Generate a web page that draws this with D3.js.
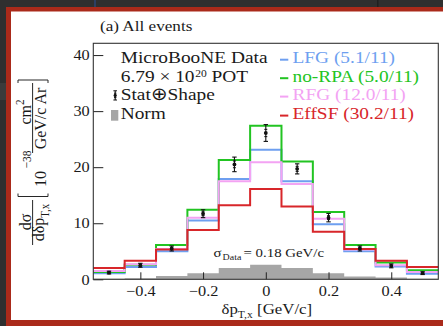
<!DOCTYPE html>
<html>
<head>
<meta charset="utf-8">
<script src="https://cdn.jsdelivr.net/npm/d3@7"></script>
<style>
  html, body { margin: 0; padding: 0; background: #2f2f2f; overflow: hidden; }
  svg { display: block; }
</style>
</head>
<body>
<script>
// ---- data ---------------------------------------------------------------
const binEdges   = [-0.55, -0.45, -0.35, -0.25, -0.15, -0.05, 0.05, 0.15, 0.25, 0.35, 0.45, 0.55];
const binCenters = [-0.5, -0.4, -0.3, -0.2, -0.1, 0, 0.1, 0.2, 0.3, 0.4, 0.5];

const dataValues = [1.2, 2.5, 5.5, 11.7, 20.5, 26.1, 19.7, 11.0, 5.5, 2.4, 1.1];
const dataTotErr = [0.25, 0.35, 0.45, 0.7, 1.3, 1.5, 0.9, 0.75, 0.45, 0.35, 0.25];
const dataStatErr = [0.12, 0.18, 0.22, 0.35, 0.6, 0.65, 0.45, 0.35, 0.22, 0.18, 0.12];

const lfgValues   = [1.1, 2.2, 5.0, 10.5, 17.9, 23.1, 17.5, 9.8, 5.0, 2.3, 1.0];
const noRpaValues = [1.3, 2.6, 6.1, 12.4, 21.3, 27.4, 21.0, 12.0, 6.1, 3.0, 1.6];
const rfgValues   = [1.5, 2.7, 5.4, 11.0, 17.5, 20.9, 17.0, 10.8, 5.3, 2.5, 1.3];
const effSfValues = [2.0, 3.3, 5.3, 8.8, 13.2, 16.1, 13.0, 8.5, 5.4, 3.3, 2.2];
const normValues  = [0.1, 0.2, 0.6, 1.1, 2.0, 2.6, 2.0, 1.1, 0.5, 0.3, 0.1];

const modelNames  = ["LFG", "no-RPA", "RFG", "EffSF"];
const modelChi2   = ["5.1/11", "5.0/11", "12.0/11", "30.2/11"];
const modelColors = ["#6e9ff0", "#22c422", "#f3a3f3", "#d8262a"];
const modelValues = [lfgValues, noRpaValues, rfgValues, effSfValues];

const xTicks = [-0.4, -0.2, 0, 0.2, 0.4];
const xTickLabels = ["\u22120.4", "\u22120.2", "0", "0.2", "0.4"];
const yTicks = [0, 10, 20, 30, 40];
const yTickLabels = ["0", "10", "20", "30", "40"];

// ---- layout -------------------------------------------------------------
const W = 443, H = 326;
const SX = 1.1;                       // horizontal glyph stretch
const FONT = "'Liberation Serif', 'Times New Roman', serif";
const INK = "#1a1a1a";

const svg = d3.select("body").append("svg").attr("width", W).attr("height", H);

// slide background and frame
svg.append("rect").attr("width", W).attr("height", H).attr("fill", "#2f2f2f");
svg.append("rect").attr("x", 0).attr("y", 83).attr("width", 6).attr("height", 17).attr("fill", "#3b3b3b");
svg.append("rect").attr("x", 94).attr("y", 0).attr("width", 2).attr("height", 7).attr("fill", "#2d3f63");
svg.append("rect").attr("x", 377).attr("y", 0).attr("width", 1.5).attr("height", 7).attr("fill", "#202020");
svg.append("rect").attr("x", 6).attr("y", 7).attr("width", W).attr("height", H).attr("fill", "#aa2a1a");
svg.append("rect").attr("x", 11).attr("y", 11.5).attr("width", W).attr("height", 308.5).attr("fill", "#ffffff");

const x = d3.scaleLinear().domain([-0.55, 0.55]).range([93.3, 438.3]);
const y = d3.scaleLinear().domain([0, 42.1]).range([279.3, 43.3]);

// text helper with horizontal stretch
function label(parent, px, py, anchor, size, color) {
  return parent.append("text")
    .attr("transform", `translate(${px},${py}) scale(${SX},1)`)
    .attr("text-anchor", anchor)
    .attr("font-family", FONT)
    .attr("font-size", size)
    .attr("fill", color || INK);
}

// ---- norm uncertainty band ----------------------------------------------
const stepPts = vals => binEdges.map((e, i) => [e, vals[Math.min(i, vals.length - 1)]]);

svg.append("path")
  .datum(stepPts(normValues))
  .attr("fill", "#a6a6a6")
  .attr("d", d3.area().curve(d3.curveStepAfter)
    .x(d => x(d[0])).y0(y(0)).y1(d => y(d[1])));

// ---- axes ---------------------------------------------------------------
const yAxis = svg.append("g").attr("transform", `translate(${x(-0.55)},0)`)
  .call(d3.axisLeft(y).tickValues(yTicks).tickSize(-10).tickPadding(3.3)
    .tickFormat((d, i) => yTickLabels[i]));
const xAxis = svg.append("g").attr("transform", `translate(0,${y(0)})`)
  .call(d3.axisBottom(x).tickValues(xTicks).tickSize(-7).tickPadding(6.6)
    .tickFormat((d, i) => xTickLabels[i]));
[yAxis, xAxis].forEach(a => {
  a.select(".domain").remove();
  a.selectAll(".tick line").attr("stroke", "#222").attr("stroke-width", 1);
  a.selectAll(".tick text")
    .attr("font-family", FONT).attr("font-size", 14.8).attr("fill", INK)
    .attr("transform", `scale(${SX},1)`);
});
xAxis.selectAll(".tick text").attr("x", 0);

// ---- model histograms ---------------------------------------------------
const stepLine = d3.line().curve(d3.curveStepAfter).x(d => x(d[0])).y(d => y(d[1]));
modelValues.forEach((vals, k) => {
  svg.append("path")
    .datum(stepPts(vals))
    .attr("fill", "none")
    .attr("stroke", modelColors[k])
    .attr("stroke-width", 2)
    .attr("d", stepLine);
});

// ---- data points --------------------------------------------------------
const pts = svg.append("g");
binCenters.forEach((c, i) => {
  const px = x(c);
  const v = dataValues[i];
  pts.append("line").attr("x1", px).attr("x2", px)
    .attr("y1", y(v - dataTotErr[i])).attr("y2", y(v + dataTotErr[i]))
    .attr("stroke", "#111").attr("stroke-width", 1.1);
  [v - dataTotErr[i], v + dataTotErr[i]].forEach(e =>
    pts.append("line").attr("x1", px - 2.2).attr("x2", px + 2.2)
      .attr("y1", y(e)).attr("y2", y(e)).attr("stroke", "#111").attr("stroke-width", 1.1));
  [v - dataStatErr[i], v + dataStatErr[i]].forEach(e =>
    pts.append("line").attr("x1", px - 1.5).attr("x2", px + 1.5)
      .attr("y1", y(e)).attr("y2", y(e)).attr("stroke", "#111").attr("stroke-width", 1));
  pts.append("circle").attr("cx", px).attr("cy", y(v)).attr("r", 1.9).attr("fill", "#111");
});

// ---- frame --------------------------------------------------------------
svg.append("rect")
  .attr("x", x(-0.55)).attr("y", y(42.1))
  .attr("width", x(0.55) - x(-0.55)).attr("height", y(0) - y(42.1))
  .attr("fill", "none").attr("stroke", "#333").attr("stroke-width", 1.1);

// ---- title --------------------------------------------------------------
label(svg, 100, 31, "start", 15.6).text("(a) All events");

// ---- legend -------------------------------------------------------------
const LEG_FS = 17.6;
const rowY = [63.3, 81.8, 100.2, 119.2];

label(svg, 120.7, rowY[0], "start", LEG_FS).text("MicroBooNE Data");
const pot = label(svg, 120.7, rowY[1], "start", LEG_FS);
pot.append("tspan").text("6.79 \u00d7 10");
pot.append("tspan").attr("font-size", 10.5).attr("dy", -5.2).attr("dx", 0.6).text("20");
pot.append("tspan").attr("dy", 5.2).text(" POT");
label(svg, 120.7, rowY[2], "start", LEG_FS).text("Stat\u2295Shape");
label(svg, 120.7, rowY[3], "start", LEG_FS).text("Norm");

// error-bar marker
const mk = svg.append("g").attr("stroke", "#111");
const mx = 115.2;
mk.append("line").attr("x1", mx).attr("x2", mx).attr("y1", 90.8).attr("y2", 100).attr("stroke-width", 1.1);
[90.8, 100].forEach(v => mk.append("line").attr("x1", mx - 1.8).attr("x2", mx + 1.8).attr("y1", v).attr("y2", v));
[93.2, 97.6].forEach(v => mk.append("line").attr("x1", mx - 1.2).attr("x2", mx + 1.2).attr("y1", v).attr("y2", v));
svg.append("circle").attr("cx", mx).attr("cy", 95.4).attr("r", 1.6).attr("fill", "#111");
// norm box
svg.append("rect").attr("x", 111).attr("y", 110).attr("width", 7.3).attr("height", 10.7).attr("fill", "#a6a6a6");

modelNames.forEach((name, k) => {
  svg.append("line")
    .attr("x1", 280).attr("x2", 288.3)
    .attr("y1", rowY[k] - 3.6).attr("y2", rowY[k] - 3.6)
    .attr("stroke", modelColors[k]).attr("stroke-width", 2);
  label(svg, 292.5, rowY[k], "start", LEG_FS, modelColors[k])
    .text(`${name} (${modelChi2[k]})`);
});

// ---- width annotation ---------------------------------------------------
const sig = label(svg, 213.5, 256.7, "start", 13.5);
sig.append("tspan").text("\u03c3");
sig.append("tspan").attr("font-size", 9).attr("dy", 3.5).attr("dx", 1).text("Data");
sig.append("tspan").attr("dy", -3.5).attr("dx", 2).text("= 0.18 GeV/c");

// ---- x-axis title -------------------------------------------------------
const xt = label(svg, 221.5, 313.5, "start", 15.3);
xt.append("tspan").text("\u03b4p");
xt.append("tspan").attr("font-size", 10.5).attr("dy", 4.5).text("T,x");
xt.append("tspan").attr("dy", -4.5).attr("dx", 4).text("[GeV/c]");

// ---- y-axis title (rotated; local x = -screenY, local y = screenX / SX) ----
const yl = svg.append("g").attr("transform", `rotate(-90) scale(1,${SX})`);
const LX = sy => -sy, LY = sx => sx / SX;
const YFS = 16;
function ytext(sx, sy, anchor, size) {
  return yl.append("text").attr("x", LX(sy)).attr("y", LY(sx))
    .attr("text-anchor", anchor).attr("font-family", FONT)
    .attr("font-size", size).attr("fill", INK);
}
// d sigma / d delta p_T,x
ytext(31, 222, "middle", YFS).text("d\u03c3");
yl.append("line").attr("x1", LX(245)).attr("x2", LX(200))
  .attr("y1", LY(32.6)).attr("y2", LY(32.6)).attr("stroke", INK).attr("stroke-width", 0.9);
const den = ytext(44.5, 222.5, "middle", YFS);
den.append("tspan").text("d\u03b4p");
den.append("tspan").attr("font-size", 11).attr("dy", 4).text("T,x");
// brackets
function bracket(sy, dir) {
  const a = LY(18), b = LY(48), xs = LX(sy);
  yl.append("path")
    .attr("d", `M${xs + 3 * dir},${a} H${xs} V${b} H${xs + 3 * dir}`)
    .attr("fill", "none").attr("stroke", INK).attr("stroke-width", 0.9);
}
bracket(196.5, 1);
bracket(80, -1);
// 10^-38
ytext(46, 187, "start", YFS).text("10");
ytext(31, 168.5, "start", 11.5).text("\u221238");
// cm^2 / (GeV/c Ar)
const num = ytext(31, 112, "middle", YFS);
num.append("tspan").text("cm");
num.append("tspan").attr("font-size", 11).attr("dy", -6).text("2");
yl.append("line").attr("x1", LX(153)).attr("x2", LX(83))
  .attr("y1", LY(32.6)).attr("y2", LY(32.6)).attr("stroke", INK).attr("stroke-width", 0.9);
ytext(46, 118.5, "middle", YFS).text("GeV/c Ar");
</script>
</body>
</html>
